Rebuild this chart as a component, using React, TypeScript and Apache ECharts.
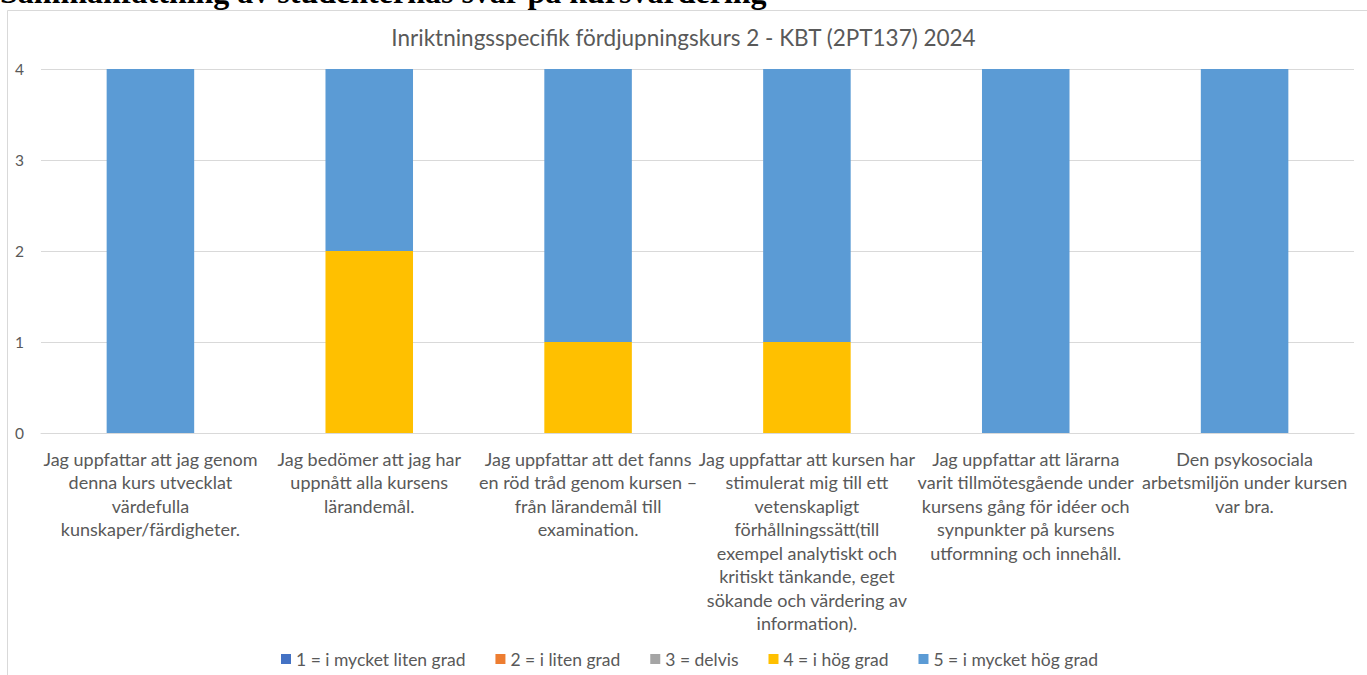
import React, { useEffect, useRef } from "react";
import * as echarts from "echarts";

const heading = "Sammanfattning av studenternas svar på kursvärdering";
const chartTitle = "Inriktningsspecifik fördjupningskurs 2 - KBT (2PT137) 2024";

const categories = [
  "Jag uppfattar att jag genom\ndenna kurs utvecklat\nvärdefulla\nkunskaper/färdigheter.",
  "Jag bedömer att jag har\nuppnått alla kursens\nlärandemål.",
  "Jag uppfattar att det fanns\nen röd tråd genom kursen –\nfrån lärandemål till\nexamination.",
  "Jag uppfattar att kursen har\nstimulerat mig till ett\nvetenskapligt\nförhållningssätt(till\nexempel analytiskt och\nkritiskt tänkande, eget\nsökande och värdering av\ninformation).",
  "Jag uppfattar att lärarna\nvarit tillmötesgående under\nkursens gång för idéer och\nsynpunkter på kursens\nutformning och innehåll.",
  "Den psykosociala\narbetsmiljön under kursen\nvar bra.",
];

const seriesNames = [
  "1 = i mycket liten grad",
  "2 = i liten grad",
  "3 = delvis",
  "4 = i hög grad",
  "5 = i mycket hög grad",
];
const seriesColors = ["#4472C4", "#ED7D31", "#A5A5A5", "#FFC000", "#5B9BD5"];

const grade1 = [0, 0, 0, 0, 0, 0];
const grade2 = [0, 0, 0, 0, 0, 0];
const grade3 = [0, 0, 0, 0, 0, 0];
const grade4 = [0, 2, 1, 1, 0, 0];
const grade5 = [4, 2, 3, 3, 4, 4];
const seriesData = [grade1, grade2, grade3, grade4, grade5];

const yTicks = { min: 0, max: 4, interval: 1 };

export default function App() {
  const ref = useRef<HTMLDivElement>(null);
  useEffect(() => {
    if (!ref.current) return;
    const chart = echarts.init(ref.current, undefined, { renderer: "svg" });
    const font = "Lato, 'Open Sans', sans-serif";
    chart.setOption({
      animation: false,
      backgroundColor: "#ffffff",
      textStyle: { fontFamily: font },
      graphic: [
        {
          type: "text",
          z: -20,
          x: 0,
          y: -8,
          style: {
            text: heading,
            font: "bold 32px 'Liberation Serif', 'Times New Roman', serif",
            fill: "#000000",
            verticalAlign: "middle",
            align: "left",
          },
        },
        {
          type: "rect",
          z: -10,
          shape: { x: 7.5, y: 10.5, width: 1400, height: 700 },
          style: { fill: "#ffffff", stroke: "#d9d9d9", lineWidth: 1 },
        },
      ],
      title: {
        text: chartTitle,
        left: "center",
        top: 21,
        textStyle: {
          fontFamily: font,
          fontSize: 22.5,
          fontWeight: "normal",
          color: "#595959",
        },
      },
      legend: {
        left: 276,
        top: 645,
        icon: "rect",
        itemWidth: 10,
        itemHeight: 10,
        itemGap: 30,
        textStyle: { fontFamily: font, fontSize: 17.5, color: "#595959" },
        data: seriesNames,
      },
      grid: { left: 41, right: 13, top: 69, bottom: 242, containLabel: false },
      xAxis: {
        type: "category",
        data: categories,
        axisLine: { lineStyle: { color: "#d9d9d9", width: 1 } },
        axisTick: { show: false },
        axisLabel: {
          interval: 0,
          fontFamily: font,
          fontSize: 18,
          lineHeight: 23.5,
          color: "#595959",
          margin: 14,
          align: "center",
        },
      },
      yAxis: {
        type: "value",
        min: yTicks.min,
        max: yTicks.max,
        interval: yTicks.interval,
        axisLine: { show: false },
        axisTick: { show: false },
        splitLine: { lineStyle: { color: "#d9d9d9", width: 1 } },
        axisLabel: { fontFamily: font, fontSize: 15.5, color: "#595959", margin: 17 },
      },
      series: seriesNames.map((name, i) => ({
        name,
        type: "bar",
        stack: "total",
        barWidth: "40%",
        data: seriesData[i],
        itemStyle: { color: seriesColors[i] },
      })),
    });
    return () => chart.dispose();
  }, []);
  return (
    <div
      ref={ref}
      style={{ position: "absolute", left: 0, top: 0, width: 1367, height: 675 }}
    />
  );
}
